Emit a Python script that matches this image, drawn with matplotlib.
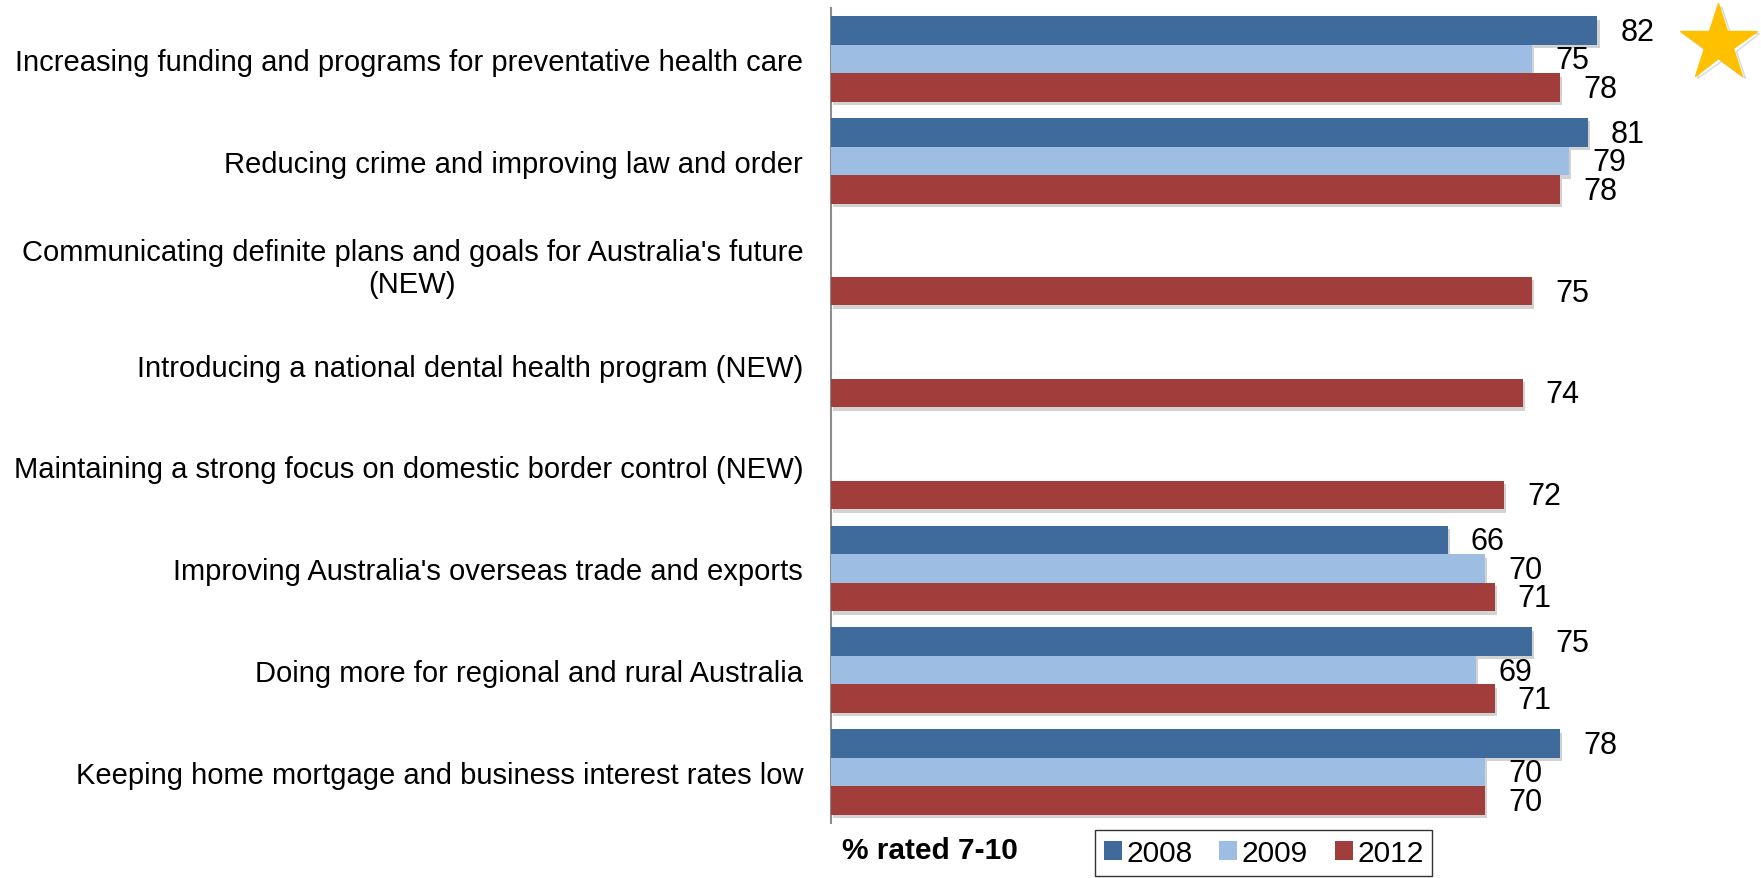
import numpy as np
import matplotlib
matplotlib.use("Agg")
import matplotlib.pyplot as plt
import matplotlib.patheffects as pe

plt.rcParams['font.family'] = ['Liberation Sans', 'DejaVu Sans']

categories = [
    "Increasing funding and programs for preventative health care",
    "Reducing crime and improving law and order",
    "Communicating definite plans and goals for Australia's future\n(NEW)",
    "Introducing a national dental health program (NEW)",
    "Maintaining a strong focus on domestic border control (NEW)",
    "Improving Australia's overseas trade and exports",
    "Doing more for regional and rural Australia",
    "Keeping home mortgage and business interest rates low",
]
series_names = ["2008", "2009", "2012"]
v2008 = [82, 81, None, None, None, 66, 75, 78]
v2009 = [75, 79, None, None, None, 70, 69, 70]
v2012 = [78, 78, 75, 74, 72, 71, 71, 70]
colors = ["#3F6A9C", "#9DBDE3", "#A13D3B"]

fig = plt.figure(figsize=(17.61, 8.79), dpi=100)
ax = fig.add_axes([831/1761, 1-824/879, 1-831/1761, 815/879])

y = np.arange(len(categories))
h = 0.28
offsets = [-h, 0, h]
shadow = [pe.SimplePatchShadow(offset=(1.5, -2.5), shadow_rgbFace='#808080', alpha=0.35), pe.Normal()]
for vals, off, col, name in zip([v2008, v2009, v2012], offsets, colors, series_names):
    arr = np.array([np.nan if v is None else v for v in vals], dtype=float)
    mask = ~np.isnan(arr)
    bars = ax.barh(y[mask] + off, arr[mask], height=h, color=col, label=name,
                   edgecolor='none', zorder=3)
    for b in bars:
        b.set_path_effects(shadow)
    for yy, v in zip(y[mask] + off, arr[mask]):
        ax.annotate(f"{int(v)}", xy=(v, yy), xytext=(16.5, -1), textcoords='offset points',
                    ha='left', va='center', fontsize=22, color='black')

ax.set_xlim(0, 99.5)
ax.set_ylim(len(categories) - 0.5, -0.5)
ax.set_yticks(y)
ax.set_yticklabels(categories, fontsize=21)
for lbl in ax.get_yticklabels():
    lbl.set_multialignment('center')
ax.tick_params(axis='y', length=0, pad=20)
ax.set_xticks([])
for s in ['top', 'right', 'bottom']:
    ax.spines[s].set_visible(False)
ax.spines['left'].set_color('#8C8C8C')
ax.spines['left'].set_linewidth(1.5)

# star marker
ax.plot([0.954], [0.957], marker='*', markersize=58, color='#FFC000', markeredgecolor='#FFC000',
        transform=ax.transAxes, clip_on=False, zorder=5,
        path_effects=[pe.SimpleLineShadow(offset=(2, -2), shadow_color='#808080', alpha=0.3), pe.Normal()])

fig.text(842/1761, 1-851/879, "% rated 7-10", fontsize=21.5, fontweight='bold', ha='left', va='center')

leg = ax.legend(loc='upper left', bbox_to_anchor=(1095/1761, 1-831/879), bbox_transform=fig.transFigure,
                ncol=3, fontsize=21.5, frameon=True, fancybox=False, edgecolor='black',
                handlelength=0.6, handleheight=0.6, handletextpad=0.15, columnspacing=0.9,
                borderpad=0.3, borderaxespad=0)
leg.get_frame().set_linewidth(1.0)
for hd in leg.legend_handles:
    hd.set_path_effects([])

fig.savefig("out.png", dpi=100)
